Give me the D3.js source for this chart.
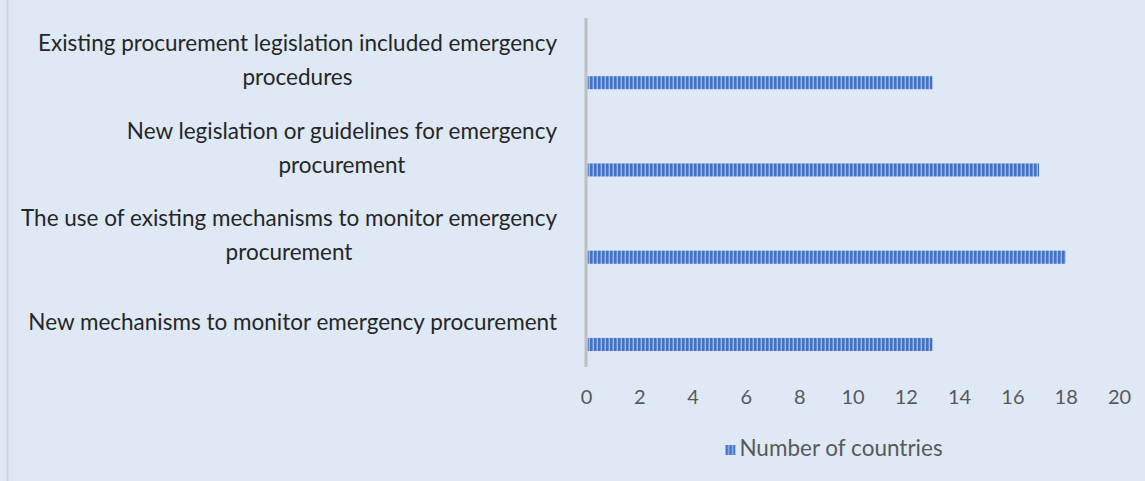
<!DOCTYPE html>
<html>
<head>
<meta charset="utf-8">
<script src="https://cdn.jsdelivr.net/npm/d3@7"></script>
<style>
  html, body { margin: 0; padding: 0; background: #dee9f5; }
  svg { display: block; font-family: Lato, "Open Sans", sans-serif; }
</style>
</head>
<body>
<div id="chart"></div>
<script>
// chart data
var categories = [
    "Existing procurement legislation included emergency procedures",
    "New legislation or guidelines for emergency procurement",
    "The use of existing mechanisms to monitor emergency procurement",
    "New mechanisms to monitor emergency procurement"
];
var countryCounts = [13, 17, 18, 13];
var xTicks = [0, 2, 4, 6, 8, 10, 12, 14, 16, 18, 20];
var seriesNames = ["", "Number of countries"];
var legendLabel = "Number of countries";

var W = 1145, H = 481;
var margin = {top: 18, left: 586, right: 26, bottom: 114};
var width = W - margin.left - margin.right;
var height = H - margin.top - margin.bottom;

var svg = d3.select("#chart").append("svg")
    .attr("width", W)
    .attr("height", H);

svg.append("rect")
    .attr("width", W).attr("height", H)
    .attr("fill", "#dee9f5");
svg.append("line")
    .attr("x1", 7.5).attr("x2", 7.5)
    .attr("y1", 0).attr("y2", H)
    .attr("stroke", "#d0d4d9").attr("stroke-width", 2);

// striped fill like the original
var defs = svg.append("defs");
var pat = defs.append("pattern")
    .attr("id", "stripes")
    .attr("patternUnits", "userSpaceOnUse")
    .attr("width", 4).attr("height", 4);
pat.append("rect").attr("width", 4).attr("height", 4).attr("fill", "#9fb7e4");
pat.append("rect").attr("width", 2).attr("height", 4).attr("fill", "#4472c4");
pat.append("rect").attr("x", 2).attr("width", 1).attr("height", 4).attr("fill", "#6a8ed3");

var g = svg.append("g")
    .attr("transform", "translate(" + margin.left + "," + margin.top + ")");

var x = d3.scaleLinear()
    .domain([0, 20])
    .range([0, 533]);

var y = d3.scaleBand()
    .domain(categories)
    .range([0, height]);

// second (empty) series keeps the bar in the lower half of each band
var ySub = d3.scaleBand()
    .domain(seriesNames)
    .range([0, y.bandwidth()])
    .paddingInner(0.69)
    .paddingOuter(0.38);

// bars
g.selectAll("rect.bar")
    .data(countryCounts)
    .enter()
    .append("rect")
    .attr("class", "bar")
    .attr("x", x(0) + 1.5)
    .attr("y", function(d, i) { return y(categories[i]) + ySub("Number of countries"); })
    .attr("width", function(d) { return x(d) - x(0) - 1.5; })
    .attr("height", ySub.bandwidth())
    .attr("fill", "url(#stripes)");

// vertical axis line
g.append("line")
    .attr("x1", 0).attr("x2", 0)
    .attr("y1", 0).attr("y2", height)
    .attr("stroke", "#bfbfbf").attr("stroke-width", 3);

// x tick labels
var xAxis = d3.axisBottom(x).tickValues(xTicks).tickSize(0).tickPadding(0);
var xg = g.append("g")
    .attr("transform", "translate(0," + (height + 32) + ")")
    .call(xAxis);
xg.select(".domain").remove();
xg.selectAll("text")
    .attr("dy", null)
    .attr("y", 0)
    .attr("dominant-baseline", "middle")
    .style("font-family", "Lato, sans-serif")
    .style("font-size", "20px")
    .attr("fill", "#595959");

// category labels, wrapped and centred within a right-aligned block
var labelRight = 557;
var maxLine = 540;
var lineGap = 34;
categories.forEach(function(cat, i) {
    var cy = margin.top + y(cat) + y.bandwidth() / 2 + 1;
    var t = svg.append("text")
        .style("font-size", "22.5px")
        .attr("fill", "#262626")
        .attr("text-anchor", "middle");
    var words = cat.split(" ");
    var lines = [];
    var cur = [];
    var probe = t.append("tspan");
    words.forEach(function(w) {
        cur.push(w);
        probe.text(cur.join(" "));
        if (probe.node().getComputedTextLength() > maxLine && cur.length > 1) {
            cur.pop();
            lines.push(cur.join(" "));
            cur = [w];
        }
    });
    lines.push(cur.join(" "));
    probe.remove();
    var widest = 0;
    var spans = lines.map(function(l) {
        var s = t.append("tspan").text(l);
        widest = Math.max(widest, s.node().getComputedTextLength());
        return s;
    });
    var cx = labelRight - widest / 2;
    spans.forEach(function(s, k) {
        s.attr("x", cx)
         .attr("y", cy + (k - (lines.length - 1) / 2) * lineGap)
         .attr("dominant-baseline", "middle");
    });
});

// legend, centred at the same place as in the original
var legend = svg.append("g");
legend.append("rect")
    .attr("x", 0).attr("y", -5)
    .attr("width", 10).attr("height", 10)
    .attr("fill", "url(#stripes)");
var legText = legend.append("text")
    .attr("x", 14).attr("y", 0)
    .attr("dominant-baseline", "middle")
    .style("font-size", "22.5px")
    .attr("fill", "#595959")
    .text(legendLabel);
var legW = 14 + legText.node().getComputedTextLength();
legend.attr("transform", "translate(" + (834 - legW / 2) + ",450)");
</script>
</body>
</html>
